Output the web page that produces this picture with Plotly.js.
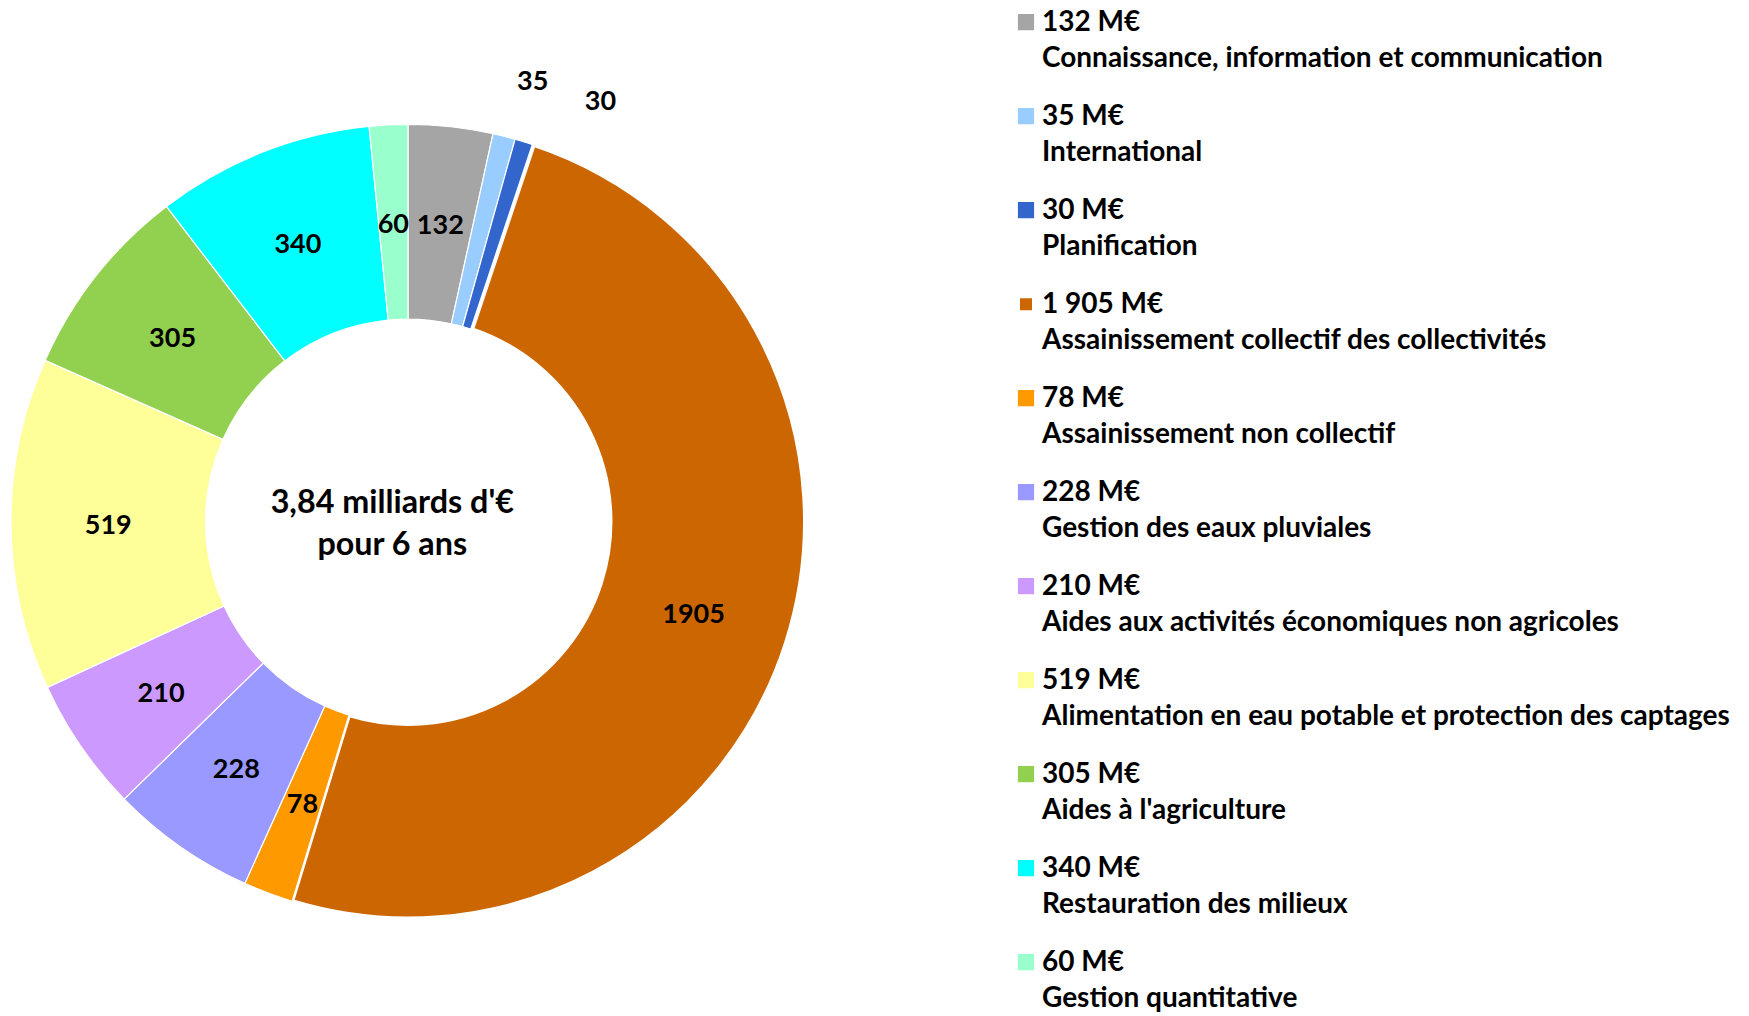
<!DOCTYPE html>
<html>
<head>
<meta charset="utf-8">
<script src="https://cdn.plot.ly/plotly-3.0.1.min.js"></script>
<style>
  html, body { margin: 0; padding: 0; background: #ffffff; }
  #chart { width: 1749px; height: 1016px; }
  /* enlarge the legend colour squares to match the reference */
  #chart .legend path.legendpie { transform: translate(24px, -3px) scale(1.5); }
</style>
</head>
<body>
<div id="chart"></div>
<script>
// ---------------- data ----------------
const amounts = [132, 35, 30, 1905, 78, 228, 210, 519, 305, 340, 60];
const categories = [
  "Connaissance, information et communication",
  "International",
  "Planification",
  "Assainissement collectif des collectivités",
  "Assainissement non collectif",
  "Gestion des eaux pluviales",
  "Aides aux activités économiques non agricoles",
  "Alimentation en eau potable et protection des captages",
  "Aides à l'agriculture",
  "Restauration des milieux",
  "Gestion quantitative"
];
const colors = ["#A5A5A5", "#99CCFF", "#3366CC", "#CC6600", "#FF9900", "#9999FF",
                "#CC99FF", "#FFFF99", "#92D050", "#00FFFF", "#99FFCC"];
const labelPlacement = ["inside", "outside", "outside", "inside", "inside", "inside",
                        "inside", "inside", "inside", "inside", "inside"];
const unit = "M€";
const centerTitle = ["3,84 milliards d'€", "pour 6 ans"];

// ---------------- layout constants ----------------
const W = 1749, H = 1016;
const CX = 408, CY = 521.5, R = 397, HOLE = 0.51;
const RMID = R * (1 + HOLE) / 2;
const FONT = "Lato, 'Open Sans', sans-serif";
const LABEL_SIZE = 27;
const LEGEND_GLYPH = 28;
const TITLE_SIZE = 32.3;
// outside-label placement tweaks (label ring radius in px, angular nudge in degrees)
const outsideR   = [0, 403, 408, 0, 0, 0, 0, 0, 0, 0, 0];
const outsideRot = [0, -0.8, 6, 0, 0, 0, 0, 0, 0, 0, 0];

function domainFor(r) {
  return {
    x: [(CX - r) / W, (CX + r) / W],
    y: [(H - CY - r) / H, (H - CY + r) / H]
  };
}
function fmtThousands(v) {
  return String(v).replace(/\B(?=(\d{3})+(?!\d))/g, " ");
}

const total = amounts.reduce((a, b) => a + b, 0);
const maxV = Math.max(...amounts);
const n = amounts.length;

const legendLabels = amounts.map((v, i) =>
  `<span style="font-size:${LEGEND_GLYPH}px">${fmtThousands(v)} ${unit}</span><br><br>` +
  `<span style="font-size:${LEGEND_GLYPH}px">${categories[i]}</span>` +
  (i < n - 1 ? "<br><br>" : "")
);

const labelFont = { family: FONT, size: LABEL_SIZE, color: "#000000", weight: "bold" };

const mainText = amounts.map(() => "");
const mainPos = amounts.map(() => "none");
const traces = [];

function labelTrace(i, r, pos, txt, rot) {
  return {
    type: "pie",
    values: amounts,
    labels: amounts.map((_, j) => "lbl" + i + "_" + j),
    sort: false,
    direction: "clockwise",
    rotation: rot || 0,
    hole: 0,
    domain: domainFor(r),
    marker: { colors: amounts.map(() => "rgba(0,0,0,0)"), line: { width: 0 } },
    text: amounts.map((_, j) => (j === i ? txt : "")),
    textinfo: "text",
    textposition: amounts.map((_, j) => (j === i ? pos : "none")),
    insidetextorientation: "horizontal",
    textfont: labelFont,
    outsidetextfont: labelFont,
    insidetextfont: labelFont,
    hoverinfo: "skip",
    showlegend: false
  };
}

const labelTraces = [];
amounts.forEach((v, i) => {
  const half = Math.PI * v / total;
  const rho = Math.sin(half) / (1 + Math.sin(half));
  if (labelPlacement[i] === "inside") {
    if (rho >= (1 - HOLE) / 2) {
      mainText[i] = String(v);
      mainPos[i] = "inside";
    } else {
      labelTraces.push(labelTrace(i, RMID / (1 - rho), "inside", String(v), 0));
    }
  } else {
    labelTraces.push(labelTrace(i, outsideR[i], "outside",
      String(v) + "<br>\u00a0", outsideRot[i]));
  }
});

const pad = "\u00a0".repeat(4);
traces.push({
  type: "pie",
  values: amounts,
  labels: legendLabels,
  sort: false,
  direction: "clockwise",
  rotation: 0,
  hole: HOLE,
  domain: domainFor(R),
  marker: {
    colors: colors,
    line: { color: "#ffffff", width: amounts.map(v => (v === maxV ? 4 : 1.2)) }
  },
  text: mainText,
  textinfo: "text",
  textposition: mainPos,
  insidetextorientation: "horizontal",
  textfont: labelFont,
  insidetextfont: labelFont,
  title: {
    text: centerTitle.map(s => s + pad).join("<br>"),
    position: "middle center",
    font: { family: FONT, size: TITLE_SIZE, color: "#000000", weight: "bold" }
  },
  hoverinfo: "value",
  showlegend: true
});
labelTraces.forEach(t => traces.push(t));

const layout = {
  width: W,
  height: H,
  margin: { l: 0, r: 0, t: 0, b: 0, autoexpand: false },
  paper_bgcolor: "#ffffff",
  plot_bgcolor: "#ffffff",
  font: { family: FONT, color: "#000000" },
  showlegend: true,
  legend: {
    x: 1002 / W,
    xanchor: "left",
    y: 1 - 9.6 / H,
    yanchor: "top",
    valign: "top",
    orientation: "v",
    bgcolor: "rgba(0,0,0,0)",
    borderwidth: 0,
    font: { family: FONT, size: 14, color: "#000000", weight: "bold" }
  },
  uniformtext: { minsize: LABEL_SIZE, mode: "show" }
};

Plotly.newPlot("chart", traces, layout, { displayModeBar: false, staticPlot: true });
</script>
</body>
</html>
